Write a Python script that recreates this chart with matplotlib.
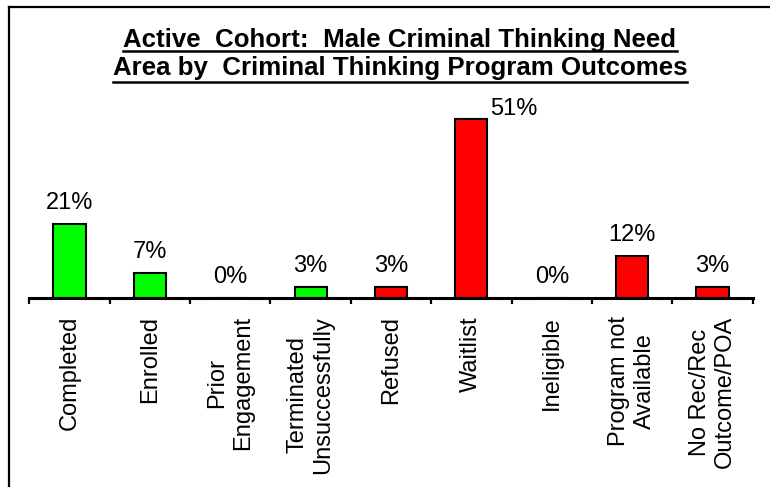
import matplotlib
matplotlib.use("Agg")
import matplotlib.pyplot as plt
from matplotlib.lines import Line2D

plt.rcParams['font.family'] = ['Liberation Sans', 'DejaVu Sans']

# Program outcome categories and share of the cohort in each
categories = ["Completed", "Enrolled", "Prior\nEngagement", "Terminated\nUnsuccessfully",
              "Refused", "Waitlist", "Ineligible", "Program not\nAvailable",
              "No Rec/Rec\nOutcome/POA"]
shares = [0.21, 0.07, 0.00, 0.03, 0.03, 0.51, 0.00, 0.12, 0.03]
bar_colors = ["#00FF00", "#00FF00", "#00FF00", "#00FF00",
              "#FF0000", "#FF0000", "#FF0000", "#FF0000", "#FF0000"]
title_lines = ["Active  Cohort:  Male Criminal Thinking Need",
               "Area by  Criminal Thinking Program Outcomes"]

W, H = 770, 487
fig = plt.figure(figsize=(W / 100, H / 100), dpi=100)
fig.patch.set_facecolor("white")

ax = fig.add_axes([29.3 / W, (H - 298) / H, (752.7 - 29.3) / W, 210.6 / H])
ax.set_facecolor("none")

x = list(range(len(categories)))
bars = ax.bar(x, shares, width=0.4, color=bar_colors, edgecolor="black", linewidth=1.5)

ax.set_xlim(-0.5, len(categories) - 0.5)
ax.set_ylim(0, 0.6)

for s in ("top", "right", "left"):
    ax.spines[s].set_visible(False)
ax.spines["bottom"].set_linewidth(2.2)
ax.set_yticks([])

# category boundaries carry the tick marks, labels sit at bar centres
ax.set_xticks([i - 0.5 for i in range(len(categories) + 1)])
ax.set_xticklabels([])
ax.tick_params(axis="x", which="major", length=4, width=1.6, direction="out")
ax.set_xticks(x, minor=True)
ax.set_xticklabels(categories, minor=True, rotation=90, fontsize=17,
                   multialignment="center")
ax.tick_params(axis="x", which="minor", length=0, pad=13)

# value labels; the tallest bar gets its label beside the top
top = max(shares)
for xi, v in zip(x, shares):
    txt = f"{round(v * 100):.0f}%"
    if v == top:
        ax.annotate(txt, xy=(xi + 0.2, v), xytext=(2, 3), textcoords="offset points",
                    ha="left", va="baseline", fontsize=17)
    else:
        ax.annotate(txt, xy=(xi, v), xytext=(0, 11), textcoords="offset points",
                    ha="center", va="baseline", fontsize=17)

# two-line underlined title
title_base = [47.3, 75.3]
underline_y = [50.7, 81.8]
texts = []
for line, yb in zip(title_lines, title_base):
    t = fig.text(400 / W, 1 - yb / H, line, ha="center", va="baseline",
                 fontsize=18.6, fontweight="bold")
    texts.append(t)

fig.canvas.draw()
renderer = fig.canvas.get_renderer()
for t, uy in zip(texts, underline_y):
    bb = t.get_window_extent(renderer)
    fig.add_artist(Line2D([bb.x0 / W, bb.x1 / W], [1 - uy / H, 1 - uy / H],
                          transform=fig.transFigure, color="black", linewidth=1.8))

# chart border (left and top edges)
fig.add_artist(Line2D([9 / W, 9 / W], [0, 1 - 7 / H], transform=fig.transFigure,
                      color="black", linewidth=1.6, solid_capstyle="projecting"))
fig.add_artist(Line2D([9 / W, 1], [1 - 7 / H, 1 - 7 / H], transform=fig.transFigure,
                      color="black", linewidth=1.6, solid_capstyle="projecting"))

fig.savefig("out.png", dpi=100)
